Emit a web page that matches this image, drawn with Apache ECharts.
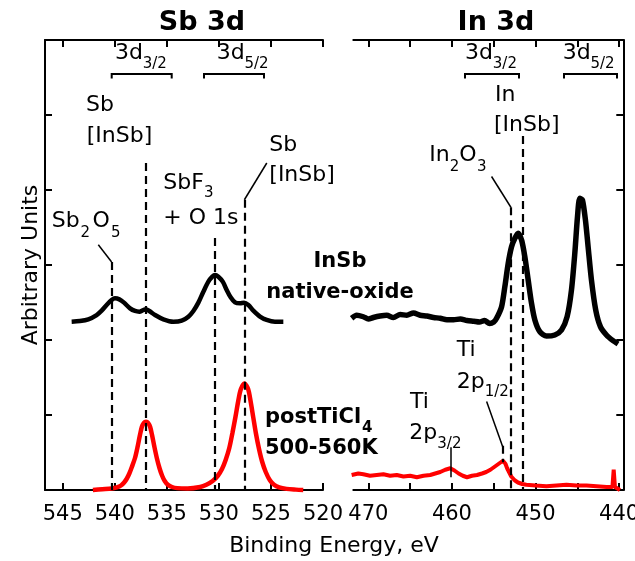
<!DOCTYPE html>
<html>
<head>
<meta charset="utf-8">
<script src="https://cdn.jsdelivr.net/npm/echarts@6/dist/echarts.min.js"></script>
<style>html,body{margin:0;padding:0;background:#fff}#c{width:635px;height:561px}</style>
</head>
<body>
<div id="c"></div>
<script>
// ---- data (binding energy in eV, intensity in arbitrary units) ----
const sbNativeE = [544.14,543.34,542.54,541.74,541.26,540.78,540.30,539.98,539.56,539.11,538.53,538.05,537.64,537.25,537.03,536.68,536.13,535.33,534.37,533.57,532.93,532.45,531.97,531.49,531.01,530.63,530.37,530.05,529.63,529.25,528.87,528.45,527.97,527.58,527.17,526.69,526.05,525.41,524.61,523.81];
const sbNativeI = [2.244,2.253,2.276,2.333,2.391,2.467,2.533,2.556,2.542,2.498,2.422,2.387,2.378,2.400,2.409,2.387,2.333,2.276,2.244,2.258,2.311,2.387,2.498,2.644,2.778,2.844,2.867,2.844,2.778,2.667,2.569,2.502,2.489,2.498,2.467,2.391,2.311,2.267,2.244,2.244];
const sbPostE = [542.1,541.2,540.3,539.8,539.4,539.1,538.85,538.6,538.35,538.05,537.8,537.6,537.4,537.2,537.0,536.8,536.6,536.4,536.2,535.95,535.7,535.45,535.2,534.9,534.5,534.0,533.0,531.8,531.2,530.6,530.1,529.7,529.35,529.0,528.7,528.4,528.15,527.9,527.55,527.2,526.95,526.7,526.45,526.15,525.85,525.5,525.1,524.7,524.2,523.5,522.6,521.9];
const sbPostI = [0.00,0.01,0.02,0.035,0.06,0.10,0.15,0.22,0.31,0.43,0.58,0.72,0.84,0.895,0.911,0.895,0.84,0.72,0.58,0.42,0.29,0.19,0.12,0.07,0.04,0.025,0.02,0.04,0.07,0.12,0.19,0.28,0.40,0.56,0.76,0.98,1.18,1.34,1.42,1.35,1.18,0.97,0.76,0.55,0.38,0.24,0.13,0.07,0.035,0.015,0.005,0.00];
const inNativeE = [472.0,471.4,470.6,470.0,469.4,468.6,467.8,467.0,466.2,465.4,464.6,463.8,463.0,462.2,461.4,460.6,459.8,459.0,458.2,457.4,456.7,456.1,455.5,455.0,454.66,454.06,453.67,453.27,452.87,452.47,452.08,451.67,451.28,450.88,450.48,450.08,449.49,448.69,447.69,446.89,446.22,445.70,445.30,444.98,444.71,444.39,444.03,443.71,443.31,442.80,442.24,441.52,440.73,440.13];
const inNativeI = [2.29,2.33,2.31,2.28,2.30,2.32,2.33,2.30,2.34,2.33,2.36,2.33,2.32,2.30,2.29,2.27,2.27,2.28,2.26,2.25,2.24,2.26,2.22,2.24,2.289,2.444,2.711,3.022,3.244,3.356,3.422,3.333,3.111,2.800,2.489,2.267,2.111,2.053,2.067,2.133,2.311,2.667,3.156,3.644,3.889,3.867,3.600,3.244,2.800,2.400,2.178,2.067,1.991,1.947];
const inPostE = [472.0,471.2,470.6,469.8,469.0,468.2,467.4,466.6,465.8,465.0,464.2,463.4,462.6,462.0,461.4,460.8,460.2,459.7,459.2,458.7,458.2,457.6,457.0,456.4,455.9,455.4,454.9,454.4,453.9,453.6,453.4,452.9,452.5,452.1,451.6,451.1,450.0,448.7,447.5,446.3,445.1,443.9,442.7,441.5,440.8,440.65,440.5,439.9];
const inPostI = [0.20,0.22,0.21,0.19,0.20,0.21,0.19,0.20,0.18,0.19,0.17,0.19,0.20,0.22,0.24,0.27,0.29,0.26,0.22,0.19,0.17,0.19,0.20,0.22,0.24,0.27,0.31,0.35,0.39,0.35,0.29,0.18,0.13,0.10,0.08,0.07,0.06,0.05,0.06,0.07,0.06,0.06,0.05,0.04,0.04,0.27,0.04,0.00];

const sbTicks = [520,525,530,535,540,545];
const inTicks = [440,445,450,455,460,465,470];
const inTickLabels = [440,450,460,470];
const yTicks = [0,1,2,3,4,5,6];

// reference lines: [energy, top intensity, (bottom intensity)]
const sbRefLines = [[540.3,3.04],[537.0,4.36],[530.35,3.36],[527.55,3.87]];
const inRefLines = [[452.95,3.77],[451.55,4.72],[453.94,0.59,0.37]];
// leaders: [e1,i1,e2,i2]
const sbLeaders = [[541.58,3.27,540.3,3.04],[525.4,4.36,527.55,3.87]];
const inLeaders = [[455.26,4.18,452.95,3.77],[455.85,1.18,453.94,0.58],[460.16,0.57,460.16,0.17]];

const zip = (a,b)=>a.map((v,i)=>[v,b[i]]);
const FF = 'DejaVu Sans';

function dashLines(lines){
  return lines.map(l=>[{coord:[l[0],l[1]]},{coord:[l[0], l.length>2?l[2]:0]}]);
}
function leaderLines(ls){
  return ls.map(l=>[{coord:[l[0],l[1]],lineStyle:{type:'solid',width:1.5}},{coord:[l[2],l[3]]}]);
}

const chart = echarts.init(document.getElementById('c'));

const axisLine = {show:true, lineStyle:{color:'#000', width:2}};
function xAx(grid, pos, min, max, ticks, labels, showLab){
  return {type:'value', gridIndex:grid, position:pos, inverse:true, min, max,
    axisLine, splitLine:{show:false},
    axisTick:{show:true, inside:true, length:7, lineStyle:{width:2,color:'#000'}, customValues:ticks},
    axisLabel:{show:showLab, customValues:labels, margin:14, fontSize:21, fontFamily:FF, color:'#000', hideOverlap:false}};
}
function yAx(grid, pos){
  return {type:'value', gridIndex:grid, position:pos, min:0, max:6,
    axisLine, splitLine:{show:false},
    axisTick:{show:true, inside:true, length:7, lineStyle:{width:2,color:'#000'}, customValues:yTicks},
    axisLabel:{show:false}};
}

// text helpers
const G = [];
function T(x,y,s,fs,bold,align,extra){
  G.push(Object.assign({type:'text', x, y, z:100, silent:true,
    style:{text:s, fontSize:fs, fontWeight:bold?'bold':'normal', fontFamily:FF, fill:'#000',
      align:align||'left', verticalAlign:'middle'}}, extra||{}));
}
function bracket(x1,x2){
  G.push({type:'polyline', z:100, silent:true, shape:{points:[[x1,78.5],[x1,74],[x2,74],[x2,78.5]]},
    style:{stroke:'#000', lineWidth:2, fill:null}});
}
// titles
T(202,23,'Sb 3d',27,true,'center');
T(496,23,'In 3d',27,true,'center');
// spin-orbit labels
T(115,53.7,'3d',22); T(142.7,64.5,'3/2',15);
T(216.7,53.7,'3d',22); T(244.5,64.5,'5/2',15);
T(465,53.7,'3d',22); T(492.8,64.5,'3/2',15);
T(562.7,53.7,'3d',22); T(590.5,64.5,'5/2',15);
bracket(111.7,171.7); bracket(204,264); bracket(465,519); bracket(564,617);
// Sb labels
T(86,105.3,'Sb',22); T(86.7,136,'[InSb]',22);
T(163.3,183.7,'SbF',22); T(204,193.5,'3',15); T(163.3,218.7,'+ O 1s',22);
T(51.7,221.3,'Sb',22); T(80.5,233.5,'2',15); T(92.5,221.3,'O',22); T(111,233.5,'5',15);
T(269.3,145.3,'Sb',22); T(269.3,175,'[InSb]',22);
T(340,261.3,'InSb',21,true,'center'); T(340,292.3,'native-oxide',21,true,'center');
T(265,417.3,'postTiCl',21,true); T(362,428,'4',15,true);
T(265,448.3,'500-560K',21,true);
// In labels
T(495,95.3,'In',22); T(494,125.3,'[InSb]',22);
T(429.3,155.3,'In',22); T(449.7,167,'2',15); T(459.3,155.3,'O',22); T(477,167,'3',15);
T(456.7,350.3,'Ti',22); T(456.7,382,'2p',22); T(484.7,392,'1/2',15);
T(410,402.7,'Ti',22); T(409.3,433.7,'2p',22); T(437.3,443.7,'3/2',15);
// axis titles
T(334,545.8,'Binding Energy, eV',22,false,'center');
T(31.5,265,'Arbitrary Units',22,false,'center',{rotation:Math.PI/2});

const mlBase = {silent:true, symbol:['none','none'], label:{show:false}, animation:false,
  lineStyle:{color:'#000', type:[8,5], width:2.2}};

chart.setOption({
  animation:false,
  backgroundColor:'#fff',
  grid:[
    {left:45, top:40, width:278, height:450, outerBoundsMode:'none', containLabel:false},
    {left:353.3, top:40, width:270, height:450, outerBoundsMode:'none', containLabel:false}
  ],
  xAxis:[
    xAx(0,'bottom',520,546.7,sbTicks,sbTicks,true),
    xAx(0,'top',520,546.7,sbTicks,sbTicks,false),
    xAx(1,'bottom',439.5,471.8,inTicks,inTickLabels,true),
    xAx(1,'top',439.5,471.8,inTicks,inTickLabels,false)
  ],
  yAxis:[ yAx(0,'left'), yAx(1,'right') ],
  series:[
    {type:'line', xAxisIndex:0, yAxisIndex:0, data:zip(sbNativeE,sbNativeI), smooth:0.3, showSymbol:false, clip:false,
      lineStyle:{color:'#000', width:4.5}, z:3,
      markLine:Object.assign({}, mlBase, {data: dashLines(sbRefLines).concat(leaderLines(sbLeaders))})},
    {type:'line', xAxisIndex:0, yAxisIndex:0, data:zip(sbPostE,sbPostI), smooth:0.3, showSymbol:false, clip:false,
      lineStyle:{color:'#f00', width:4.5}, z:3},
    {type:'line', xAxisIndex:2, yAxisIndex:1, data:zip(inNativeE,inNativeI), smooth:0.25, showSymbol:false, clip:false,
      lineStyle:{color:'#000', width:5.5}, z:3,
      markLine:Object.assign({}, mlBase, {data: dashLines(inRefLines).concat(leaderLines(inLeaders))})},
    {type:'line', xAxisIndex:2, yAxisIndex:1, data:zip(inPostE,inPostI), smooth:false, showSymbol:false, clip:false,
      lineStyle:{color:'#f00', width:4}, z:3}
  ],
  graphic: G
});
</script>
</body>
</html>
